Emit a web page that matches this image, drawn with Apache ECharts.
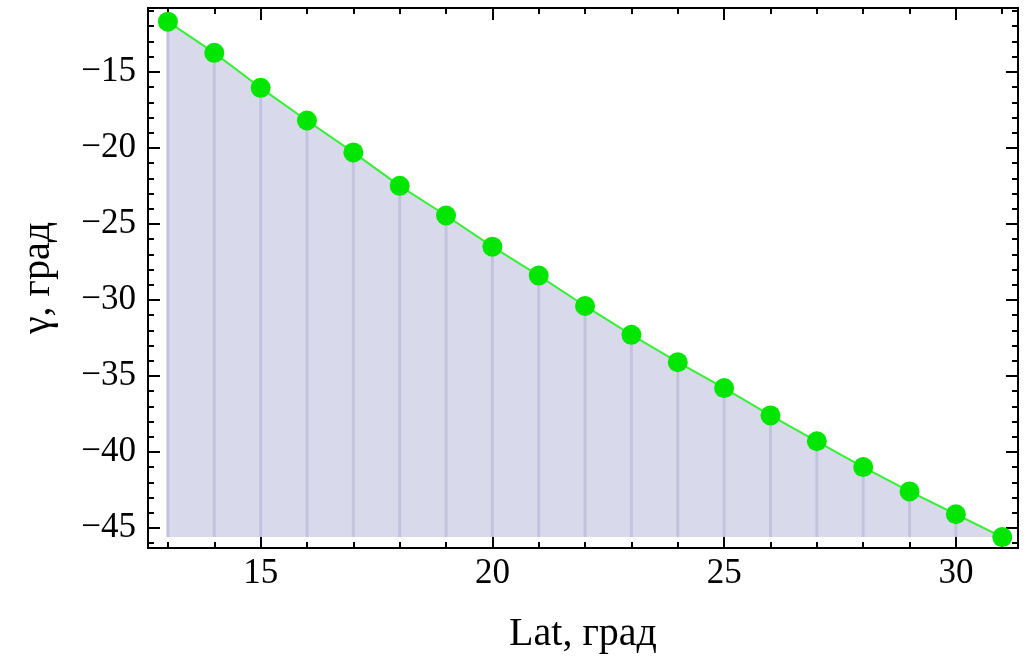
<!DOCTYPE html>
<html>
<head>
<meta charset="utf-8">
<script src="https://cdn.jsdelivr.net/npm/echarts@6/dist/echarts.min.js"></script>
<style>
  html, body { margin: 0; padding: 0; background: #fff; }
  #chart { width: 1028px; height: 659px; }
</style>
</head>
<body>
<div id="chart"></div>
<script>
  // данные
  const lat = [13, 14, 15, 16, 17, 18, 19, 20, 21, 22, 23, 24, 25, 26, 27, 28, 29, 30, 31]
  const gamma = [-11.7, -13.75, -16.05, -18.2, -20.3, -22.5, -24.45, -26.5, -28.4, -30.4,
                 -32.3, -34.1, -35.8, -37.6, -39.3, -41.0, -42.6, -44.1, -45.6]
  const xMajor = [15, 20, 25, 30]
  const xMinor = lat
  const yMajor = [-15, -20, -25, -30, -35, -40, -45]
  const yMinor = [-11, -12, -13, -14, -16, -17, -18, -19, -21, -22, -23, -24, -26, -27, -28, -29,
                  -31, -32, -33, -34, -36, -37, -38, -39, -41, -42, -43, -44, -46]
  const fillBase = -45.6

  const xMin = 12.57, xMax = 31.34
  const yMin = -46.32, yMax = -10.8

  const points = lat.map((x, i) => [x, gamma[i]])

  const tickFont = { fontFamily: 'Liberation Serif', fontSize: 35, color: '#000' }
  const nameFont = { fontFamily: 'Liberation Serif', fontSize: 40, color: '#000' }

  function xAx(pos, ticks, len, labels) {
    return {
      type: 'value', position: pos, min: xMin, max: xMax,
      axisLine: { show: false },
      splitLine: { show: false },
      axisTick: { show: true, inside: true, length: len, customValues: ticks, lineStyle: { color: '#000', width: 2 } },
      axisLabel: labels ? Object.assign({ show: true, margin: 8, customValues: ticks }, tickFont) : { show: false }
    }
  }
  function yAx(pos, ticks, len, labels) {
    return {
      type: 'value', position: pos, min: yMin, max: yMax,
      axisLine: { show: false },
      splitLine: { show: false },
      axisTick: { show: true, inside: true, length: len, customValues: ticks, lineStyle: { color: '#000', width: 2 } },
      axisLabel: labels ? Object.assign({
        show: true, margin: 12, customValues: ticks,
        formatter: v => '\u2212' + Math.abs(v)
      }, tickFont) : { show: false }
    }
  }

  const xAxes = [xAx('bottom', xMajor, 12, true), xAx('bottom', xMinor, 6, false),
                 xAx('top', xMajor, 12, false), xAx('top', xMinor, 6, false)]
  xAxes[0].name = 'Lat, град'
  xAxes[0].nameLocation = 'middle'
  xAxes[0].nameGap = 66
  xAxes[0].nameTextStyle = nameFont

  const yAxes = [yAx('left', yMajor, 12, true), yAx('left', yMinor, 6, false),
                 yAx('right', yMajor, 12, false), yAx('right', yMinor, 6, false)]
  yAxes[0].name = 'γ, град'
  yAxes[0].nameLocation = 'middle'
  yAxes[0].nameRotate = 90
  yAxes[0].nameGap = 90
  yAxes[0].nameTextStyle = nameFont

  let myChart = echarts.init(document.getElementById('chart'))
  let option = {
    animation: false,
    grid: { left: 148, right: 10, top: 8, bottom: 111, show: true, borderColor: '#000', borderWidth: 2, backgroundColor: 'transparent' },
    xAxis: xAxes,
    yAxis: yAxes,
    series: [
      {
        type: 'line',
        data: points,
        symbol: 'none',
        lineStyle: { width: 0 },
        areaStyle: { color: '#d9d9ec', opacity: 1, origin: fillBase },
        z: 1
      },
      {
        // вертикальные линии до оси
        type: 'custom',
        data: points,
        renderItem(params, api) {
          let top = api.coord([api.value(0), api.value(1)])
          let bot = api.coord([api.value(0), fillBase])
          return {
            type: 'line',
            shape: { x1: top[0], y1: top[1], x2: bot[0], y2: bot[1] },
            style: { stroke: '#c3c3e0', lineWidth: 3 }
          }
        },
        z: 2
      },
      {
        type: 'line',
        data: points,
        symbol: 'circle',
        symbolSize: 20,
        itemStyle: { color: '#00e600' },
        lineStyle: { color: '#33f033', width: 2 },
        z: 3
      }
    ]
  }
  myChart.setOption(option)
</script>
</body>
</html>
